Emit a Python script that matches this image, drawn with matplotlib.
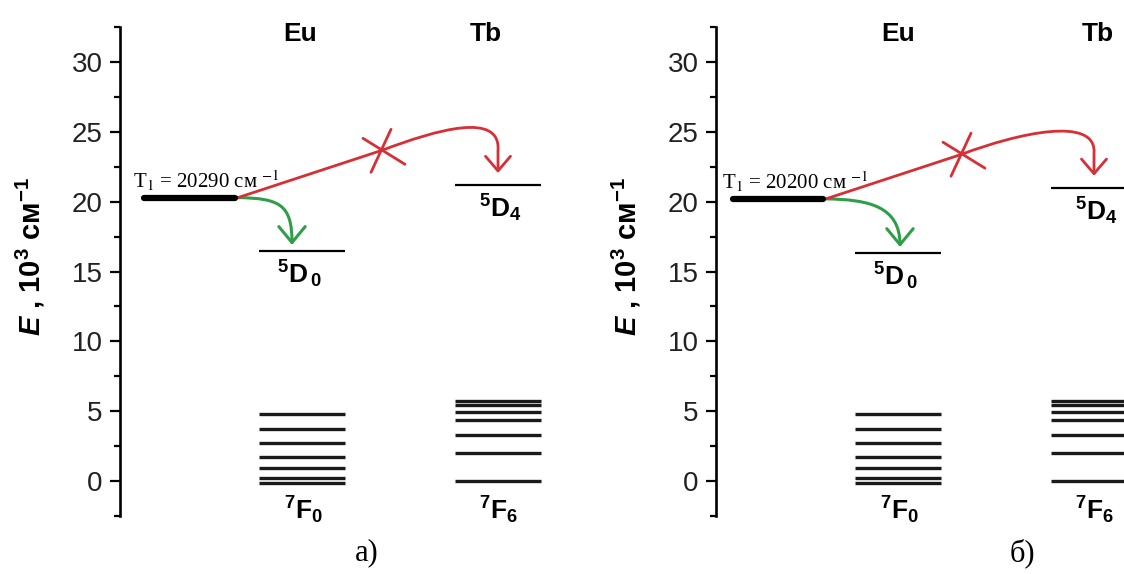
import numpy as np
import matplotlib.pyplot as plt
from matplotlib.path import Path
from matplotlib.patches import FancyArrowPatch

plt.rcParams['font.family'] = ['Liberation Sans', 'DejaVu Sans']
plt.rcParams['mathtext.fontset'] = 'custom'
plt.rcParams['mathtext.rm'] = 'Liberation Sans:bold'
plt.rcParams['mathtext.it'] = 'Liberation Sans:italic:bold'
plt.rcParams['mathtext.bf'] = 'Liberation Sans:bold'

# ------------------------------------------------------------
# Energy levels, 10^3 cm^-1   (panel а), panel б))
# ------------------------------------------------------------
t1_values = [20.29, 20.20]
t1_labels = ['20290', '20200']
eu_5d0 = [16.5, 16.35]
tb_5d4 = [21.2, 21.0]
eu_7f = [4.8, 3.75, 2.7, 1.75, 0.9, 0.2, -0.15]
tb_7f = [5.7, 5.45, 4.97, 4.35, 3.3, 2.0, 0.0]
panel_labels = ['а)', 'б)']

yticks = [0, 5, 10, 15, 20, 25, 30]
ymin, ymax = -2.5, 32.5

# ------------------------------------------------------------
# Layout (pixels of the 1124x574 picture, x measured from the spine)
# ------------------------------------------------------------
W, H = 1124, 574
spine_px = [120, 716]
ax_w_px = 440
ax_top_px, ax_bot_px = 27, 516
ppu = (ax_bot_px - ax_top_px) / (ymax - ymin)   # pixels per 10^3 cm^-1

t1_span = [(24, 115), (17, 107)]
eu_span = (139, 225)
tb_span = (335, 421)
eu_head_x = [180, 182]
tb_head_x = [366, 382]
cross_x = [262, 246]          # where the red transfer line is crossed out
red_tip_x = 378
green_tip_x = [172, 184]
panel_label_x = [367, 1022]

red = '#d62f36'
green = '#2f9e47'

fig = plt.figure(figsize=(W / 100, H / 100), dpi=100)


def px_dy(d):
    return -d / ppu


for i, x0 in enumerate(spine_px):
    ax = fig.add_axes([x0 / W, 1 - ax_bot_px / H, ax_w_px / W,
                       (ax_bot_px - ax_top_px) / H])
    ax.set_xlim(0, ax_w_px)
    ax.set_ylim(ymin, ymax)
    for s in ['top', 'right', 'bottom']:
        ax.spines[s].set_visible(False)
    ax.spines['left'].set_linewidth(1.9)
    ax.set_xticks([])
    ax.set_yticks(yticks)
    ax.set_yticks(np.arange(ymin, ymax + 0.1, 5), minor=True)
    ax.tick_params(axis='y', which='major', length=7.5, width=1.6,
                   labelsize=20, pad=5, labelcolor='#222222')
    ax.tick_params(axis='y', which='minor', length=4, width=1.6)
    ax.set_ylabel(r'$E$ , 10$^3$ см$^{-1}$', fontsize=21, fontweight='bold')
    ax.yaxis.set_label_coords(-0.165, 0.53)

    # levels
    ax.hlines(t1_values[i], *t1_span[i], color='k', lw=4.5,
              capstyle='round')
    ax.hlines(eu_5d0[i], *eu_span, color='k', lw=1.6)
    ax.hlines(tb_5d4[i], *tb_span, color='k', lw=1.6, clip_on=False)
    ax.hlines(eu_7f, *eu_span, color='#1a1a1a', lw=2.4)
    ax.hlines(tb_7f, *tb_span, color='#1a1a1a', lw=2.4)

    # labels
    ax.text(eu_head_x[i], 32.0, 'Eu', ha='center', va='center', fontsize=19,
            fontweight='bold')
    ax.text(tb_head_x[i], 32.0, 'Tb', ha='center', va='center', fontsize=19,
            fontweight='bold')
    ax.text(sum(eu_span) / 2 - 3, eu_5d0[i] - 1.7, r'$^5$D$_{\,0}$',
            ha='center', va='center', fontsize=19, fontweight='bold')
    ax.text(sum(tb_span) / 2 + 2, tb_5d4[i] - 1.7, r'$^5$D$_4$',
            ha='center', va='center', fontsize=19, fontweight='bold')
    ax.text(sum(eu_span) / 2 + 2, -2.1, r'$^7$F$_0$',
            ha='center', va='center', fontsize=19, fontweight='bold')
    ax.text(sum(tb_span) / 2 + 1, -2.1, r'$^7$F$_6$',
            ha='center', va='center', fontsize=19, fontweight='bold')
    ax.text(t1_span[i][0] - 11, t1_values[i] + 0.7,
            'T$_1$ = ' + t1_labels[i] + ' см $^{-1}$',
            family='Liberation Serif', math_fontfamily='stix',
            fontsize=15, ha='left', va='baseline')

    # green arrow: T1 -> 5D0 of Eu
    x_start = t1_span[i][1] + 3
    gx = green_tip_x[i]
    gy = eu_5d0[i] + 0.4
    g_path = Path([(x_start, t1_values[i]),
                   (x_start + 42, t1_values[i] - 0.05),
                   (gx, t1_values[i] - 0.5),
                   (gx, gy)],
                  [Path.MOVETO, Path.CURVE4, Path.CURVE4, Path.CURVE4])
    ax.add_patch(FancyArrowPatch(path=g_path, color=green, lw=2.2,
                                 arrowstyle='->,head_length=1.15,head_width=0.95',
                                 mutation_scale=10))

    # red arrow: T1 -> 5D4 of Tb (blocked)
    cx = cross_x[i]
    slope = 0.0235
    cy = t1_values[i] + slope * (cx - x_start)
    ry = tb_5d4[i] + 0.85
    r_path = Path([(x_start, t1_values[i]),
                   (cx, cy),
                   (cx + 55, cy + 55 * slope * 1.15),
                   (red_tip_x + 3, cy + 2.8),
                   (red_tip_x, ry + 1.6),
                   (red_tip_x, ry)],
                  [Path.MOVETO, Path.LINETO, Path.CURVE4, Path.CURVE4,
                   Path.CURVE4, Path.LINETO])
    ax.add_patch(FancyArrowPatch(path=r_path, color=red, lw=2.0,
                                 arrowstyle='->,head_length=1.05,head_width=0.9',
                                 mutation_scale=10))
    ax.plot([cx - 19, cx + 23], [cy + px_dy(-12), cy + px_dy(14)],
            color=red, lw=2.0, solid_capstyle='round')
    ax.plot([cx + 9, cx - 11], [cy + px_dy(-21), cy + px_dy(22)],
            color=red, lw=2.0, solid_capstyle='round')

    fig.text(panel_label_x[i] / W, 1 - 553 / H, panel_labels[i],
             family='Liberation Serif', fontsize=22, ha='center',
             va='center')

fig.savefig('out.png', dpi=100)
